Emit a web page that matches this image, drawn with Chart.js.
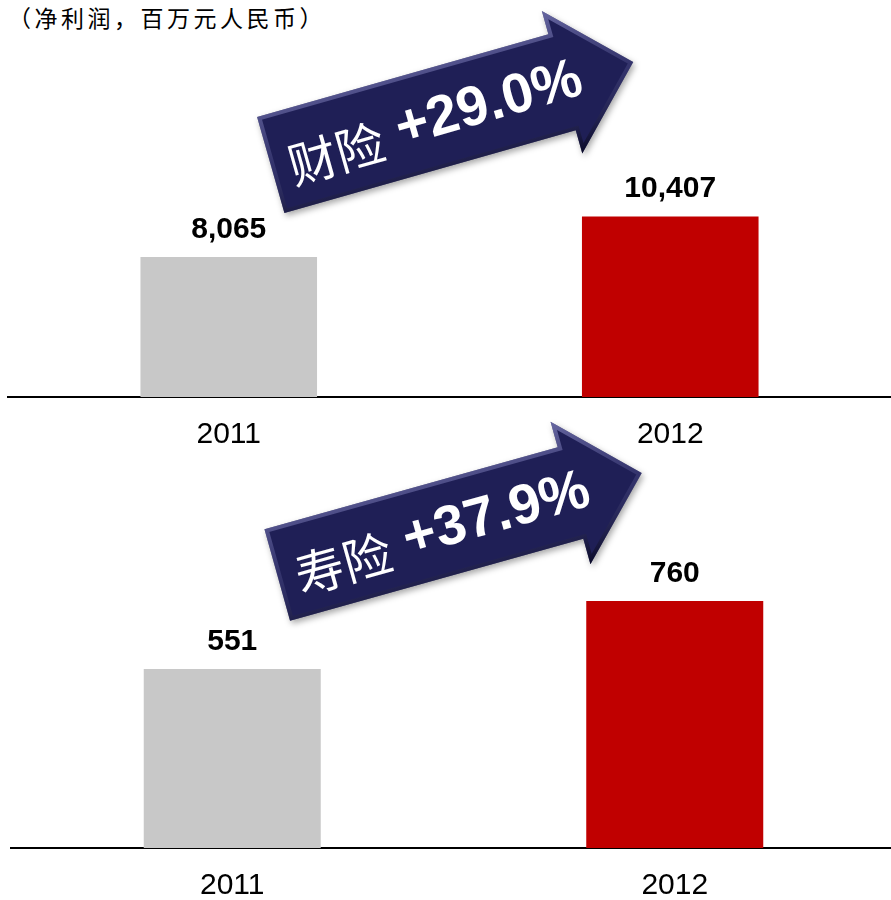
<!DOCTYPE html>
<html lang="zh-CN">
<head>
<meta charset="utf-8">
<title>净利润</title>
<script src="https://cdn.jsdelivr.net/npm/chart.js@4.4.1/dist/chart.umd.min.js"></script>
<style>
    html, body { margin: 0; padding: 0; background: #fff; overflow: hidden; }
    body { width: 891px; height: 900px; position: relative; }
    .unit {
        position: absolute; left: 8px; top: 5px;
        font: 23px/24px "Noto Sans CJK SC", sans-serif;
        letter-spacing: 3.5px; color: #000; white-space: nowrap;
    }
    .panel { position: absolute; left: 0; }
    #propertyPanel { top: 0; width: 891px; height: 473px; }
    #lifePanel { top: 400px; width: 896px; height: 524px; }
</style>
</head>
<body>
<div class="unit">（净利润，百万元人民币）</div>
<div class="panel" id="propertyPanel"><canvas id="propertyChart"></canvas></div>
<div class="panel" id="lifePanel"><canvas id="lifeChart"></canvas></div>

<script>
// Net profit, RMB millions
const years = ['2011', '2012'];
const propertyProfit = [8065, 10407];
const lifeProfit = [551, 760];
const barColors = ['#c8c8c8', '#c00000'];

// Bold value above each bar
const valueLabels = {
    id: 'valueLabels',
    afterDatasetsDraw(chart) {
        const ctx = chart.ctx;
        const values = chart.data.datasets[0].data;
        ctx.save();
        ctx.font = 'bold 30px "Liberation Sans", Arial, sans-serif';
        ctx.fillStyle = '#000';
        ctx.textAlign = 'center';
        ctx.textBaseline = 'alphabetic';
        chart.getDatasetMeta(0).data.forEach((bar, i) => {
            ctx.fillText(values[i].toLocaleString('en-US'), bar.x, bar.y - 19);
        });
        ctx.restore();
    }
};

// Navy growth arrow from the first bar towards the second
const growthArrow = {
    id: 'growthArrow',
    afterDraw(chart, args, opts) {
        if (!opts || !opts.name) return;
        const ctx = chart.ctx;
        const bars = chart.getDatasetMeta(0).data;
        const values = chart.data.datasets[0].data;
        const top = chart.chartArea.top;

        const tx = bars[0].x + opts.tail[0], ty = top + opts.tail[1];
        const hx = bars[1].x + opts.tip[0], hy = top + opts.tip[1];
        const len = Math.hypot(hx - tx, hy - ty);
        const angle = Math.atan2(hy - ty, hx - tx);
        const sw = opts.shaft / 2, hw = opts.headHalf, hl = opts.headLength;

        const path = () => {
            ctx.beginPath();
            ctx.moveTo(0, -sw);
            ctx.lineTo(len - hl, -sw);
            ctx.lineTo(len - hl, -hw);
            ctx.lineTo(len, 0);
            ctx.lineTo(len - hl, hw);
            ctx.lineTo(len - hl, sw);
            ctx.lineTo(0, sw);
            ctx.closePath();
        };

        ctx.save();
        ctx.translate(tx, ty);
        ctx.rotate(angle);

        ctx.save();
        ctx.shadowColor = 'rgba(0,0,0,0.35)';
        ctx.shadowBlur = 6;
        ctx.shadowOffsetX = 2;
        ctx.shadowOffsetY = 3;
        path();
        ctx.fillStyle = '#1f1f56';
        ctx.fill();
        ctx.restore();

        // bevel edge
        ctx.save();
        path();
        ctx.clip();
        const grad = ctx.createLinearGradient(0, -hw, 0, hw);
        grad.addColorStop(0, 'rgba(150,150,210,0.6)');
        grad.addColorStop(0.5, 'rgba(90,90,150,0.35)');
        grad.addColorStop(1, 'rgba(0,0,20,0.7)');
        ctx.strokeStyle = grad;
        ctx.lineWidth = 8;
        path();
        ctx.stroke();
        ctx.restore();

        // label: segment name + growth rate
        const growth = (values[1] / values[0] - 1) * 100;
        const rate = ' +' + growth.toFixed(1) + '%';
        const nameFont = '49px "Noto Sans CJK SC", sans-serif';
        const rateFont = 'bold 56px "Liberation Sans", Arial, sans-serif';
        ctx.font = nameFont;
        const nw = ctx.measureText(opts.name).width;
        ctx.font = rateFont;
        const rw = ctx.measureText(rate).width;
        const x = len * opts.textAt - (nw + rw) / 2;
        const y = opts.textShift;
        ctx.fillStyle = '#fff';
        ctx.textBaseline = 'middle';
        ctx.textAlign = 'left';
        ctx.font = nameFont;
        ctx.fillText(opts.name, x, y + 5);
        ctx.font = rateFont;
        ctx.fillText(rate, x + nw, y);
        ctx.restore();
    }
};

class ProfitCharts {
    constructor() {
        this.charts = new Map();
        this.init();
    }

    init() {
        this.createChart('propertyChart', propertyProfit, 20000, {
            padding: { top: 50, left: 8, right: 0, bottom: 0 },
            arrow: {
                name: '财险', tail: [42, 115], tip: [-37, 12],
                shaft: 100, headHalf: 74, headLength: 74,
                textAt: 0.45, textShift: 2
            }
        });
        this.createChart('lifeChart', lifeProfit, 1000, {
            padding: { top: 123, left: 11, right: 0, bottom: 0 },
            arrow: {
                name: '寿险', tail: [45, 52], tip: [-33, -50],
                shaft: 95, headHalf: 74, headLength: 74,
                textAt: 0.45, textShift: 2
            }
        });
    }

    createChart(id, values, yMax, cfg) {
        const ctx = document.getElementById(id);
        if (!ctx) return;

        const chart = new Chart(ctx, {
            type: 'bar',
            data: {
                labels: years,
                datasets: [{
                    data: values,
                    backgroundColor: barColors,
                    borderWidth: 0,
                    barPercentage: 0.4,
                    categoryPercentage: 1
                }]
            },
            options: {
                responsive: true,
                maintainAspectRatio: false,
                animation: false,
                layout: { padding: cfg.padding },
                plugins: {
                    legend: { display: false },
                    tooltip: { enabled: false },
                    growthArrow: cfg.arrow
                },
                scales: {
                    x: {
                        grid: { display: false, drawTicks: false },
                        border: { display: true, color: '#000', width: 2 },
                        ticks: {
                            color: '#000',
                            padding: 20,
                            font: { family: '"Liberation Sans", Arial, sans-serif', size: 30 }
                        }
                    },
                    y: {
                        display: false,
                        min: 0,
                        max: yMax
                    }
                }
            },
            plugins: [valueLabels, growthArrow]
        });

        this.charts.set(id, chart);
    }
}

document.addEventListener('DOMContentLoaded', function() {
    window.profitCharts = new ProfitCharts();
});
</script>
</body>
</html>
